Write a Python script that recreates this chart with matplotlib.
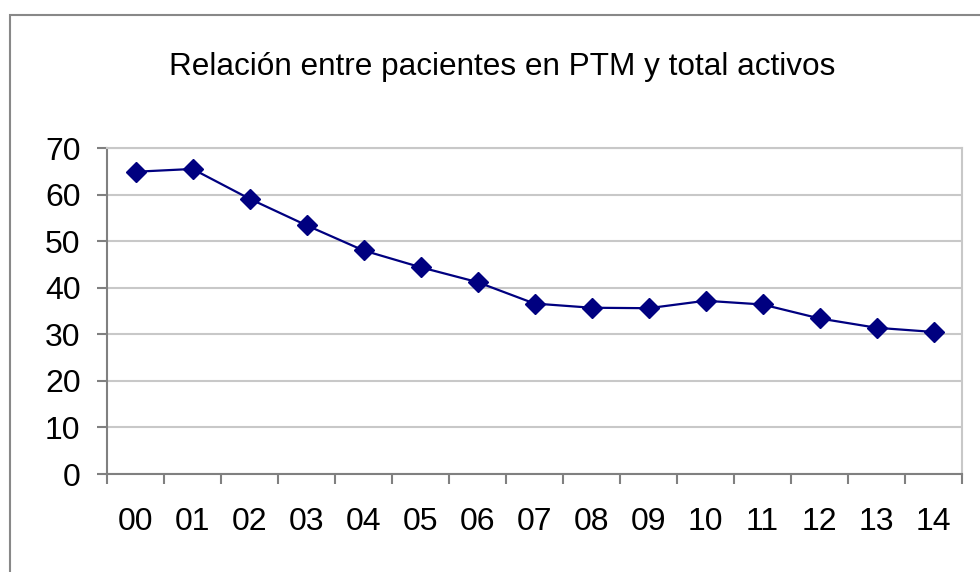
import numpy as np
import matplotlib.pyplot as plt
from matplotlib.patches import Rectangle
from matplotlib.ticker import FixedLocator

years = ["00", "01", "02", "03", "04", "05", "06", "07", "08", "09", "10", "11", "12", "13", "14"]
ratio = [64.9, 65.5, 59.1, 53.4, 48.0, 44.4, 41.2, 36.6, 35.7, 35.6, 37.2, 36.4, 33.4, 31.4, 30.5]
title = "Relación entre pacientes en PTM y total activos"
yticks = [0, 10, 20, 30, 40, 50, 60, 70]

plt.rcParams["font.family"] = ["Liberation Sans", "DejaVu Sans"]

W, H = 980, 572
fig = plt.figure(figsize=(W / 100, H / 100), dpi=100)
ax = fig.add_axes([107 / W, 1 - 474 / H, (962 - 107) / W, (474 - 148) / H])

# chart outer border (only top/left fall inside the picture)
fig.patches.append(Rectangle((9.5 / W, -0.1), 1.2, 1 - 14.5 / H + 0.1,
                             transform=fig.transFigure, fill=False,
                             edgecolor="#888888", linewidth=1.5))

x = np.arange(len(years))
ax.plot(x, ratio, color="#000080", linewidth=1.6, marker="D", markersize=10,
        markerfacecolor="#000080", markeredgecolor="#000080", zorder=3)

ax.set_xlim(-0.5, len(years) - 0.5)
ax.set_ylim(0, 70)
ax.set_yticks(yticks)
ax.set_xticks(x)
ax.set_xticklabels(years)
ax.xaxis.set_minor_locator(FixedLocator(np.arange(len(years) + 1) - 0.5))
ax.tick_params(axis="x", which="major", length=0, pad=24, labelsize=23)
ax.tick_params(axis="x", which="minor", length=7, width=1.5, color="#808080")
ax.tick_params(axis="y", length=7, width=1.5, color="#808080", pad=12, labelsize=23)

ax.grid(axis="y", color="#c8c8c8", linewidth=1.5)
ax.set_axisbelow(True)
for side in ["left", "bottom"]:
    ax.spines[side].set_color("#808080")
    ax.spines[side].set_linewidth(1.5)
ax.spines["top"].set_color("#c8c8c8")
ax.spines["right"].set_color("#c8c8c8")
ax.spines["top"].set_linewidth(1.5)
ax.spines["right"].set_linewidth(1.5)

fig.text(502 / W, 1 - 67 / H, title, ha="center", va="center", fontsize=22.7)

fig.savefig("out.png", dpi=100)
